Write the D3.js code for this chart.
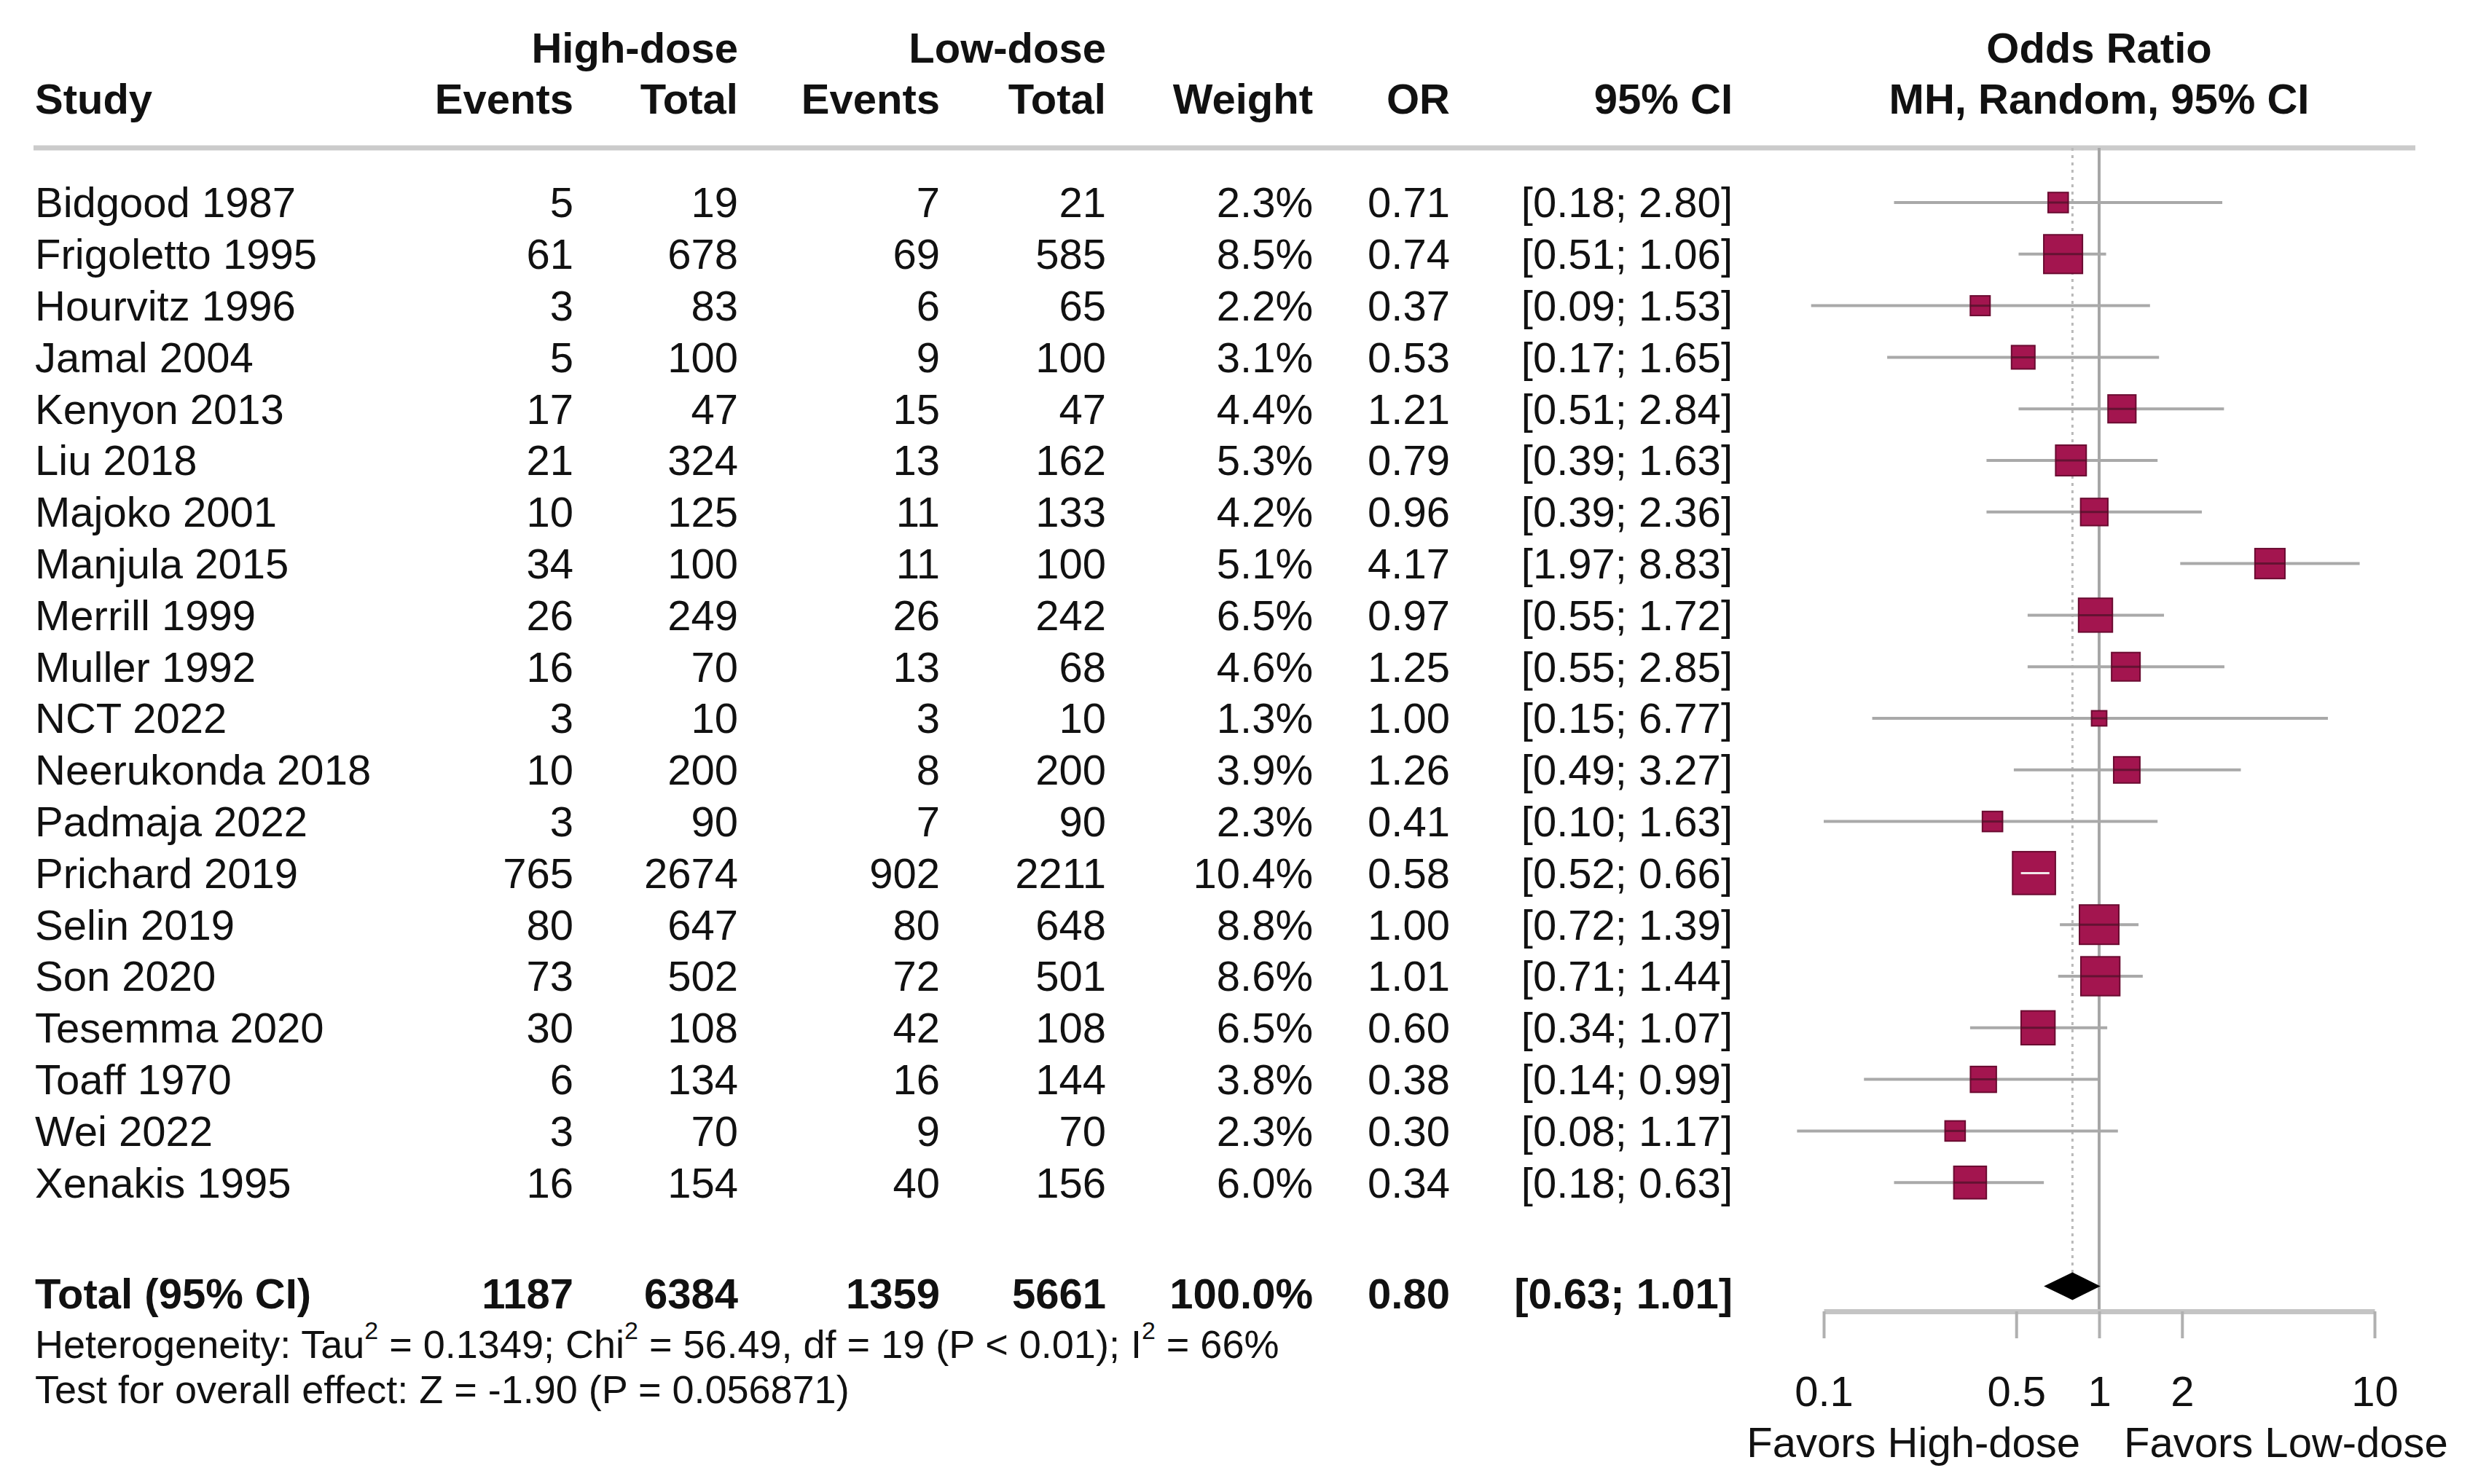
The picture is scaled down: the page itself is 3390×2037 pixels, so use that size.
<!DOCTYPE html>
<html>
<head>
<meta charset="utf-8">
<script src="https://cdn.jsdelivr.net/npm/d3@7"></script>
<style>
  html, body { margin: 0; padding: 0; background: #fff; }
  svg { display: block; font-family: "Liberation Sans", Arial, sans-serif; }
</style>
</head>
<body>
<svg id="chart" width="3390" height="2037"></svg>
<script>
// ---------------- DATA ----------------
const studies = ["Bidgood 1987","Frigoletto 1995","Hourvitz 1996","Jamal 2004","Kenyon 2013","Liu 2018","Majoko 2001","Manjula 2015","Merrill 1999","Muller 1992","NCT 2022","Neerukonda 2018","Padmaja 2022","Prichard 2019","Selin 2019","Son 2020","Tesemma 2020","Toaff 1970","Wei 2022","Xenakis 1995"];
const highEvents = [5,61,3,5,17,21,10,34,26,16,3,10,3,765,80,73,30,6,3,16];
const highTotal  = [19,678,83,100,47,324,125,100,249,70,10,200,90,2674,647,502,108,134,70,154];
const lowEvents  = [7,69,6,9,15,13,11,11,26,13,3,8,7,902,80,72,42,16,9,40];
const lowTotal   = [21,585,65,100,47,162,133,100,242,68,10,200,90,2211,648,501,108,144,70,156];
const weights    = [2.3,8.5,2.2,3.1,4.4,5.3,4.2,5.1,6.5,4.6,1.3,3.9,2.3,10.4,8.8,8.6,6.5,3.8,2.3,6.0];
const orValues   = [0.71,0.74,0.37,0.53,1.21,0.79,0.96,4.17,0.97,1.25,1.00,1.26,0.41,0.58,1.00,1.01,0.60,0.38,0.30,0.34];
const ciLower    = [0.18,0.51,0.09,0.17,0.51,0.39,0.39,1.97,0.55,0.55,0.15,0.49,0.10,0.52,0.72,0.71,0.34,0.14,0.08,0.18];
const ciUpper    = [2.80,1.06,1.53,1.65,2.84,1.63,2.36,8.83,1.72,2.85,6.77,3.27,1.63,0.66,1.39,1.44,1.07,0.99,1.17,0.63];

const totalLabel = "Total (95% CI)";
const totalValues = { highEvents: 1187, highTotal: 6384, lowEvents: 1359, lowTotal: 5661, weight: "100.0%", or: 0.80, lo: 0.63, hi: 1.01 };
const axisTicks = [0.1, 0.5, 1, 2, 10];
const axisTickLabels = ["0.1", "0.5", "1", "2", "10"];
const labelLeft = "Favors High-dose";
const labelRight = "Favors Low-dose";

// ---------------- LAYOUT ----------------
const svg = d3.select("#chart");
const FS = 58;        // body font size
const FS_FOOT = 54;
const textCol = "#111";

const x = d3.scaleLog().domain([0.1, 10]).range([2503, 3259]);
const y = d3.scaleLinear().domain([0, 1]).range([278, 348.8]); // row index -> center y

const colX = { study: 48, hE: 787, hT: 1013, lE: 1290, lT: 1518, w: 1802, or: 1990, ci: 2378 };
const yTopLine = 203;
const yAxis = 1800;
const totalRow = 21.15;
const sqK = 18.2;

function txt(g, xp, yp, s, anchor, opts = {}) {
  return g.append("text")
    .attr("x", xp).attr("y", yp).attr("dy", "0.35em")
    .attr("text-anchor", anchor)
    .attr("font-size", opts.size || FS)
    .attr("font-weight", opts.bold ? "bold" : "normal")
    .attr("fill", textCol)
    .text(s);
}

const gHead = svg.append("g");
const yH1 = 66, yH2 = 136;
txt(gHead, colX.hT, yH1, "High-dose", "end", { bold: true });
txt(gHead, colX.lT, yH1, "Low-dose", "end", { bold: true });
txt(gHead, x(1), yH1, "Odds Ratio", "middle", { bold: true });
txt(gHead, colX.study, yH2, "Study", "start", { bold: true });
txt(gHead, colX.hE, yH2, "Events", "end", { bold: true });
txt(gHead, colX.hT, yH2, "Total", "end", { bold: true });
txt(gHead, colX.lE, yH2, "Events", "end", { bold: true });
txt(gHead, colX.lT, yH2, "Total", "end", { bold: true });
txt(gHead, colX.w, yH2, "Weight", "end", { bold: true });
txt(gHead, colX.or, yH2, "OR", "end", { bold: true });
txt(gHead, colX.ci, yH2, "95% CI", "end", { bold: true });
txt(gHead, x(1), yH2, "MH, Random, 95% CI", "middle", { bold: true });

// header rule
svg.append("line")
  .attr("x1", 46).attr("x2", 3315).attr("y1", yTopLine).attr("y2", yTopLine)
  .attr("stroke", "#cbcbcb").attr("stroke-width", 7);

// Reference lines
svg.append("line")
  .attr("x1", x(1)).attr("x2", x(1)).attr("y1", yTopLine).attr("y2", yAxis)
  .attr("stroke", "#a6a6a6").attr("stroke-width", 4);
svg.append("line")
  .attr("x1", x(totalValues.or)).attr("x2", x(totalValues.or))
  .attr("y1", yTopLine).attr("y2", y(totalRow) - 28)
  .attr("stroke", "#b8b8b8").attr("stroke-width", 3)
  .attr("stroke-dasharray", "4 6");

// Table rows
const fmt2 = d3.format(".2f");
const fmtW = d => d3.format(".1f")(d) + "%";
const gRows = svg.append("g");
studies.forEach((s, i) => {
  const yc = y(i);
  txt(gRows, colX.study, yc, s, "start");
  txt(gRows, colX.hE, yc, highEvents[i], "end");
  txt(gRows, colX.hT, yc, highTotal[i], "end");
  txt(gRows, colX.lE, yc, lowEvents[i], "end");
  txt(gRows, colX.lT, yc, lowTotal[i], "end");
  txt(gRows, colX.w, yc, fmtW(weights[i]), "end");
  txt(gRows, colX.or, yc, fmt2(orValues[i]), "end");
  txt(gRows, colX.ci, yc, "[" + fmt2(ciLower[i]) + "; " + fmt2(ciUpper[i]) + "]", "end");
});

// Forest marks
const gMarks = svg.append("g");
studies.forEach((s, i) => {
  const yc = y(i);
  const side = sqK * Math.sqrt(weights[i]);
  const cx = x(orValues[i]);
  const x0 = x(ciLower[i]), x1 = x(ciUpper[i]);
  const inside = x0 >= cx - side / 2 && x1 <= cx + side / 2;
  if (!inside) {
    gMarks.append("line")
      .attr("x1", x0).attr("x2", x1).attr("y1", yc).attr("y2", yc)
      .attr("stroke", "#a9a9a9").attr("stroke-width", 4);
  }
  gMarks.append("rect")
    .attr("x", cx - side / 2).attr("y", yc - side / 2)
    .attr("width", side).attr("height", side)
    .attr("fill", "#a3154f").attr("stroke", "#6a0b31").attr("stroke-width", 2);
  if (inside) {
    gMarks.append("line")
      .attr("x1", x0).attr("x2", x1).attr("y1", yc).attr("y2", yc)
      .attr("stroke", "#f2e6ea").attr("stroke-width", 3);
  } else {
    gMarks.append("line")
      .attr("x1", Math.max(x0, cx - side / 2)).attr("x2", Math.min(x1, cx + side / 2))
      .attr("y1", yc).attr("y2", yc)
      .attr("stroke", "#4a1226").attr("stroke-width", 3).attr("opacity", 0.7);
  }
});

// Total row
const yt = y(totalRow);
txt(gRows, colX.study, yt, totalLabel, "start", { bold: true });
txt(gRows, colX.hE, yt, totalValues.highEvents, "end", { bold: true });
txt(gRows, colX.hT, yt, totalValues.highTotal, "end", { bold: true });
txt(gRows, colX.lE, yt, totalValues.lowEvents, "end", { bold: true });
txt(gRows, colX.lT, yt, totalValues.lowTotal, "end", { bold: true });
txt(gRows, colX.w, yt, totalValues.weight, "end", { bold: true });
txt(gRows, colX.or, yt, fmt2(totalValues.or), "end", { bold: true });
txt(gRows, colX.ci, yt, "[" + fmt2(totalValues.lo) + "; " + fmt2(totalValues.hi) + "]", "end", { bold: true });

const dh = 19, dy0 = yt - 10;
svg.append("path")
  .attr("d", `M${x(totalValues.lo)},${dy0} L${x(totalValues.or)},${dy0 - dh} L${x(totalValues.hi)},${dy0} L${x(totalValues.or)},${dy0 + dh} Z`)
  .attr("fill", "#000");

// Axis
const axis = d3.axisBottom(x).tickValues(axisTicks)
  .tickFormat((d, i) => axisTickLabels[i]).tickSize(37).tickSizeOuter(0);
const gAxis = svg.append("g").attr("transform", `translate(0,${yAxis})`).call(axis);
gAxis.select(".domain").attr("stroke", "#c4c4c4").attr("stroke-width", 7);
gAxis.selectAll(".tick line").attr("stroke", "#b0b0b0").attr("stroke-width", 4);
gAxis.selectAll(".tick text")
  .attr("y", 110).attr("dy", "0.35em")
  .attr("font-size", FS).attr("fill", textCol)
  .attr("font-family", '"Liberation Sans", Arial, sans-serif');

txt(svg, x(1) - 26, 1980, labelLeft, "end");
txt(svg, x(1) + 34, 1980, labelRight, "start");

// Footnotes (superscripts via dy on tspans)
const hetBase = 1845 + 19;
const het = svg.append("text")
  .attr("x", colX.study).attr("y", hetBase)
  .attr("font-size", FS_FOOT).attr("fill", textCol);
const hetParts = ["Heterogeneity: Tau", " = 0.1349; Chi", " = 56.49, df = 19 (P < 0.01); I", " = 66%"];
hetParts.forEach((p, i) => {
  het.append("tspan").attr("dy", i === 0 ? 0 : 26).text(p);
  if (i < hetParts.length - 1) {
    het.append("tspan").attr("dy", -26).attr("font-size", 34).text("2");
  }
});

svg.append("text")
  .attr("x", colX.study).attr("y", 1907).attr("dy", "0.35em")
  .attr("font-size", FS_FOOT).attr("fill", textCol)
  .text("Test for overall effect: Z = -1.90 (P = 0.056871)");
</script>
</body>
</html>
